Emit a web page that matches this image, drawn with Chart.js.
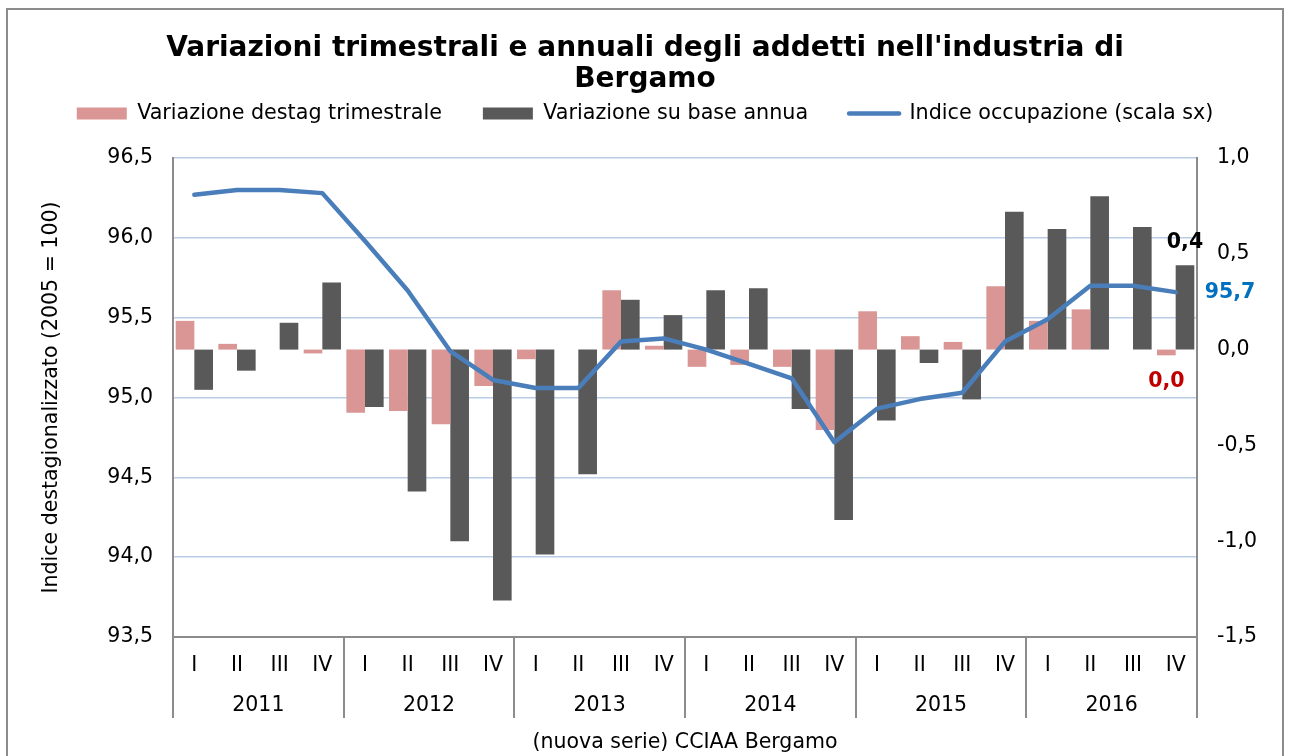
<!DOCTYPE html>
<html>
<head>
<meta charset="utf-8">
<title>Variazioni trimestrali e annuali degli addetti nell'industria di Bergamo</title>
<script src="https://cdn.jsdelivr.net/npm/chart.js@4.4.1/dist/chart.umd.min.js"></script>
<style>
    html, body { margin: 0; padding: 0; background: #ffffff; }
    #wrap { width: 1290px; height: 756px; }
</style>
</head>
<body>
<div id="wrap"><canvas id="addettiChart" width="1290" height="756"></canvas></div>
<script>
// ============================================
// DATI — Industria di Bergamo 2011-2016
// ============================================
const years    = ['2011', '2012', '2013', '2014', '2015', '2016'];
const quarters = ['I','II','III','IV','I','II','III','IV','I','II','III','IV',
                  'I','II','III','IV','I','II','III','IV','I','II','III','IV'];

// variazione destagionalizzata trimestrale (scala dx)
const varTrimestrale = [0.15, 0.03, 0.00, -0.02, -0.33, -0.32, -0.39, -0.19,
                        -0.05, 0.00, 0.31, 0.02, -0.09, -0.08, -0.09, -0.42,
                        0.20, 0.07, 0.04, 0.33, 0.15, 0.21, 0.00, -0.03];
// variazione su base annua (scala dx)
const varAnnua = [-0.21, -0.11, 0.14, 0.35, -0.30, -0.74, -1.00, -1.31,
                  -1.07, -0.65, 0.26, 0.18, 0.31, 0.32, -0.31, -0.89,
                  -0.37, -0.07, -0.26, 0.72, 0.63, 0.80, 0.64, 0.44];
// indice occupazione destagionalizzato, 2005 = 100 (scala sx)
const indiceOccupazione = [96.27, 96.30, 96.30, 96.28, 95.98, 95.67, 95.29, 95.11,
                           95.06, 95.06, 95.35, 95.37, 95.30, 95.21, 95.12, 94.72,
                           94.93, 94.99, 95.03, 95.35, 95.49, 95.70, 95.70, 95.66];

const PINK = '#D99694';
const DARK = '#595959';
const BLUE = '#4A7EBB';
const AXIS = '#8C8C8C';
const GRID = '#B9CDE8';
const FONT = "'DejaVu Sans', Verdana, sans-serif";

const fmt = v => {
    const s = Number(v).toFixed(1).replace('.', ',');
    return s === '-0,0' ? '0,0' : s;
};

Chart.defaults.font.family = FONT;
Chart.defaults.font.size = 20.5;
Chart.defaults.color = '#000000';

// etichette sull'ultimo trimestre
const lastLabels = {
    id: 'lastLabels',
    afterDatasetsDraw(chart) {
        const ctx = chart.ctx;
        const last = quarters.length - 1;
        const pinkBar = chart.getDatasetMeta(0).data[last];
        const darkBar = chart.getDatasetMeta(1).data[last];
        const point = chart.getDatasetMeta(2).data[last];
        ctx.save();
        ctx.font = 'bold 20.5px ' + FONT;
        ctx.textBaseline = 'middle';
        ctx.textAlign = 'center';
        ctx.fillStyle = '#000000';
        ctx.fillText(fmt(varAnnua[last]), darkBar.x, darkBar.y - 23);
        ctx.fillStyle = '#C00000';
        ctx.fillText(fmt(varTrimestrale[last]), pinkBar.x, pinkBar.y + 26);
        ctx.textAlign = 'left';
        ctx.fillStyle = '#0070C0';
        ctx.fillText(fmt(indiceOccupazione[last]), point.x + 29, point.y + 1);
        ctx.restore();
    }
};

// separatori tra gli anni + cornice
const yearFrame = {
    id: 'yearFrame',
    afterDraw(chart) {
        const {ctx, chartArea} = chart;
        const x = chart.scales.x;
        const x2 = chart.scales.x2;
        const step = x.getPixelForValue(1) - x.getPixelForValue(0);
        ctx.save();
        ctx.strokeStyle = AXIS;
        ctx.lineWidth = 2;
        ctx.beginPath();
        for (let i = 0; i <= years.length; i++) {
            const px = Math.round(x.getPixelForValue(i * 4) - step / 2);
            ctx.moveTo(px, chartArea.bottom);
            ctx.lineTo(px, x2.top + 36);
        }
        ctx.stroke();
        ctx.strokeRect(7, 9, 1276, 800);
        ctx.restore();
    }
};

const ctx = document.getElementById('addettiChart').getContext('2d');
new Chart(ctx, {
    type: 'bar',
    data: {
        labels: quarters,
        datasets: [
            {
                label: 'Variazione destag trimestrale',
                data: varTrimestrale,
                backgroundColor: PINK,
                borderWidth: 0,
                categoryPercentage: 0.874,
                barPercentage: 1.0,
                xAxisID: 'x',
                yAxisID: 'y1',
            },
            {
                label: 'Variazione su base annua',
                data: varAnnua,
                backgroundColor: DARK,
                borderWidth: 0,
                categoryPercentage: 0.874,
                barPercentage: 1.0,
                xAxisID: 'x',
                yAxisID: 'y1',
            },
            {
                label: 'Indice occupazione (scala sx)',
                data: indiceOccupazione,
                type: 'line',
                borderColor: BLUE,
                backgroundColor: BLUE,
                borderWidth: 4.5,
                borderCapStyle: 'round',
                borderJoinStyle: 'round',
                pointRadius: 0,
                tension: 0,
                fill: false,
                order: -1,
                xAxisID: 'x',
                yAxisID: 'y',
            }
        ]
    },
    options: {
        responsive: false,
        animation: false,
        devicePixelRatio: 1,
        layout: { padding: 0 },
        plugins: {
            tooltip: { enabled: false },
            title: {
                display: true,
                text: ["Variazioni trimestrali e annuali degli addetti nell'industria di", 'Bergamo'],
                color: '#000000',
                font: { size: 28, weight: 'bold', lineHeight: 1.1 },
                padding: { top: 33.6, bottom: -32.95 }
            },
            legend: {
                display: true,
                position: 'top',
                labels: {
                    usePointStyle: true,
                    pointStyleWidth: 50,
                    boxHeight: 12,
                    padding: 41,
                    color: '#000000',
                    font: { size: 20.7 },
                    generateLabels: () => [
                        { text: 'Variazione destag trimestrale', fillStyle: PINK, strokeStyle: PINK, lineWidth: 0, pointStyle: 'rect', datasetIndex: 0 },
                        { text: 'Variazione su base annua', fillStyle: DARK, strokeStyle: DARK, lineWidth: 0, pointStyle: 'rect', datasetIndex: 1 },
                        { text: 'Indice occupazione (scala sx)', fillStyle: BLUE, strokeStyle: BLUE, lineWidth: 4.5, lineCap: 'round', pointStyle: 'line', datasetIndex: 2 }
                    ]
                }
            },
            // spazio vuoto tra legenda e area del grafico
            subtitle: {
                display: true,
                text: '',
                position: 'top',
                weight: 500,
                font: { size: 10, lineHeight: 1.2 },
                padding: { top: 12.05, bottom: 0 }
            }
        },
        scales: {
            x: {
                type: 'category',
                position: 'bottom',
                weight: 0,
                grid: { display: false, drawTicks: false },
                border: { display: true, color: AXIS, width: 2 },
                ticks: { padding: 16.3, autoSkip: false, maxRotation: 0, color: '#000000', font: { size: 20.5 } },
                afterFit: s => { s.height = 45; }
            },
            x2: {
                type: 'category',
                position: 'bottom',
                weight: 1,
                labels: years,
                offset: true,
                grid: { display: false, drawTicks: false, offset: true },
                border: { display: false },
                ticks: { padding: 11.6, autoSkip: false, maxRotation: 0, color: '#000000', font: { size: 20.5 } },
                title: {
                    display: true,
                    text: '(nuova serie) CCIAA Bergamo',
                    color: '#000000',
                    font: { size: 20.5 },
                    padding: { top: 0, bottom: 1.5 }
                },
                afterFit: s => { s.height = 74; }
            },
            y: {
                type: 'linear',
                position: 'left',
                min: 93.5,
                max: 96.5,
                grid: {
                    drawTicks: false,
                    lineWidth: 1.5,
                    color: c => (c.tick && c.tick.value === 93.5) ? 'rgba(0,0,0,0)' : GRID
                },
                border: { display: true, color: AXIS, width: 2 },
                ticks: { stepSize: 0.5, padding: 20, color: '#000000', font: { size: 20.5 }, callback: v => fmt(v) },
                title: {
                    display: true,
                    text: 'Indice destagionalizzato (2005 = 100)',
                    color: '#000000',
                    font: { size: 20.5 },
                    padding: { top: 38.9, bottom: 0 }
                },
                afterFit: s => { s.width = 173; }
            },
            y1: {
                type: 'linear',
                position: 'right',
                min: -1.5,
                max: 1.0,
                grid: { display: false, drawTicks: false },
                border: { display: true, color: AXIS, width: 2 },
                ticks: { stepSize: 0.5, padding: 20, color: '#000000', font: { size: 20.5 }, callback: v => fmt(v) },
                afterFit: s => { s.width = 93; }
            }
        }
    },
    plugins: [lastLabels, yearFrame]
});
</script>
</body>
</html>
